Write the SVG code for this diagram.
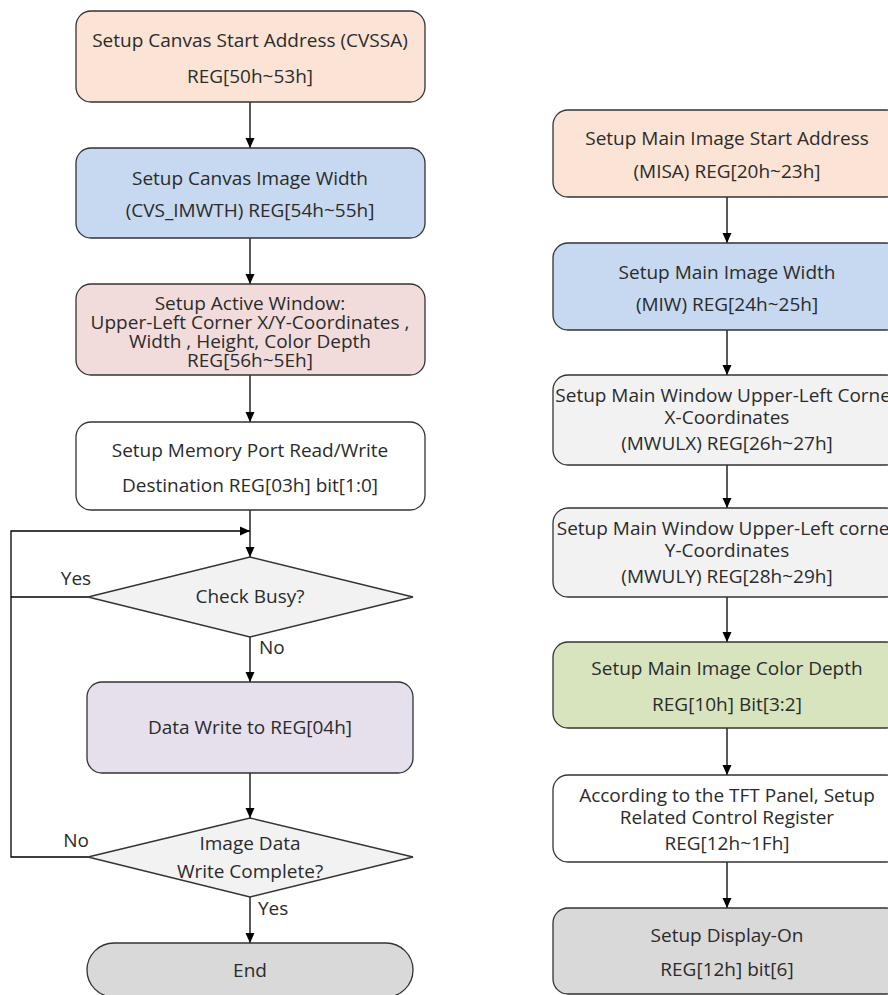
<svg xmlns="http://www.w3.org/2000/svg" width="888" height="995" viewBox="0 0 888 995">
  <defs>
    <marker id="arrow" viewBox="0 0 10 10" refX="10" refY="5" markerWidth="10" markerHeight="10" markerUnits="userSpaceOnUse" orient="auto">
      <path d="M0,0.5 L10,5 L0,9.5 Z" fill="#000"/>
    </marker>
    <style>
      .box { stroke: #333333; stroke-width: 1.3; }
      .peach { fill: #fbe4d5; }
      .blue { fill: #c6d9f0; }
      .pink { fill: #f2dcdb; }
      .white { fill: #ffffff; }
      .lav { fill: #e5e0ec; }
      .light { fill: #f2f2f2; }
      .green { fill: #d7e4bd; }
      .gray { fill: #d9d9d9; }
      text { font-family: "Open Sans", "Noto Sans", sans-serif; font-size: 19px; fill: #2b2b2b; text-anchor: middle; }
      text.lbl { text-anchor: start; }
      .conn { fill: none; stroke: #000; stroke-width: 1.3; }
    </style>
  </defs>
  <rect width="888" height="995" fill="#ffffff"/>

  <!-- connectors -->
  <g id="connectors">
    <!-- left flow -->
    <line class="conn" x1="250" y1="102" x2="250" y2="148" marker-end="url(#arrow)"/>
    <line class="conn" x1="250" y1="238" x2="250" y2="284" marker-end="url(#arrow)"/>
    <line class="conn" x1="250" y1="375" x2="250" y2="422" marker-end="url(#arrow)"/>
    <line class="conn" x1="250" y1="510" x2="250" y2="557" marker-end="url(#arrow)"/>
    <line class="conn" x1="250" y1="637" x2="250" y2="682" marker-end="url(#arrow)"/>
    <line class="conn" x1="250" y1="773" x2="250" y2="818" marker-end="url(#arrow)"/>
    <line class="conn" x1="250" y1="897" x2="250" y2="943" marker-end="url(#arrow)"/>
    <!-- busy / not-complete loop back -->
    <polyline class="conn" points="88,857 11,857 11,531 250,531" marker-end="url(#arrow)"/>
    <line class="conn" x1="88" y1="597" x2="11" y2="597"/>
    <!-- right flow -->
    <line class="conn" x1="727" y1="197" x2="727" y2="243" marker-end="url(#arrow)"/>
    <line class="conn" x1="727" y1="330" x2="727" y2="375" marker-end="url(#arrow)"/>
    <line class="conn" x1="727" y1="465" x2="727" y2="508" marker-end="url(#arrow)"/>
    <line class="conn" x1="727" y1="597" x2="727" y2="642" marker-end="url(#arrow)"/>
    <line class="conn" x1="727" y1="728" x2="727" y2="775" marker-end="url(#arrow)"/>
    <line class="conn" x1="727" y1="862" x2="727" y2="908" marker-end="url(#arrow)"/>
    <!-- branch labels -->
    <text x="76" y="585">Yes</text>
    <text class="lbl" x="259" y="654">No</text>
    <text x="76" y="847">No</text>
    <text class="lbl" x="258" y="915">Yes</text>
  </g>

  <!-- left column -->
  <g id="canvas-start">
    <rect class="box peach" x="76" y="11" width="349" height="91" rx="15"/>
    <text x="250" y="47">Setup Canvas Start Address (CVSSA)</text>
    <text x="250" y="83">REG[50h~53h]</text>
  </g>
  <g id="canvas-width">
    <rect class="box blue" x="76" y="148" width="349" height="90" rx="15"/>
    <text x="250" y="185">Setup Canvas Image Width</text>
    <text x="250" y="217">(CVS_IMWTH) REG[54h~55h]</text>
  </g>
  <g id="active-window">
    <rect class="box pink" x="76" y="284" width="349" height="91" rx="15"/>
    <text x="250" y="310">Setup Active Window:</text>
    <text x="250" y="329">Upper-Left Corner X/Y-Coordinates ,</text>
    <text x="250" y="348">Width , Height, Color Depth</text>
    <text x="250" y="367">REG[56h~5Eh]</text>
  </g>
  <g id="memory-port">
    <rect class="box white" x="76" y="422" width="349" height="88" rx="15"/>
    <text x="250" y="457">Setup Memory Port Read/Write</text>
    <text x="250" y="492">Destination REG[03h] bit[1:0]</text>
  </g>
  <g id="check-busy">
    <polygon class="box light" points="250,557 413,597 250,637 88,597"/>
    <text x="250" y="603">Check Busy?</text>
  </g>
  <g id="data-write">
    <rect class="box lav" x="87" y="682" width="326" height="91" rx="15"/>
    <text x="250" y="734">Data Write to REG[04h]</text>
  </g>
  <g id="write-complete">
    <polygon class="box light" points="250,818 413,857 250,897 88,857"/>
    <text x="250" y="850">Image Data</text>
    <text x="250" y="878">Write Complete?</text>
  </g>
  <g id="end">
    <rect class="box gray" x="87" y="943" width="326" height="54" rx="27"/>
    <text x="250" y="977">End</text>
  </g>

  <!-- right column -->
  <g id="main-start">
    <rect class="box peach" x="553" y="110" width="348" height="87" rx="15"/>
    <text x="727" y="145">Setup Main Image Start Address</text>
    <text x="727" y="178">(MISA) REG[20h~23h]</text>
  </g>
  <g id="main-width">
    <rect class="box blue" x="553" y="243" width="348" height="87" rx="15"/>
    <text x="727" y="279">Setup Main Image Width</text>
    <text x="727" y="311">(MIW) REG[24h~25h]</text>
  </g>
  <g id="main-window-x">
    <rect class="box light" x="553" y="375" width="348" height="90" rx="15"/>
    <text x="727" y="402">Setup Main Window Upper-Left Corner</text>
    <text x="727" y="424">X-Coordinates</text>
    <text x="727" y="450">(MWULX) REG[26h~27h]</text>
  </g>
  <g id="main-window-y">
    <rect class="box light" x="553" y="508" width="348" height="89" rx="15"/>
    <text x="727" y="535">Setup Main Window Upper-Left corner</text>
    <text x="727" y="557">Y-Coordinates</text>
    <text x="727" y="583">(MWULY) REG[28h~29h]</text>
  </g>
  <g id="color-depth">
    <rect class="box green" x="553" y="642" width="348" height="86" rx="15"/>
    <text x="727" y="675">Setup Main Image Color Depth</text>
    <text x="727" y="711">REG[10h] Bit[3:2]</text>
  </g>
  <g id="tft-panel">
    <rect class="box white" x="553" y="775" width="348" height="87" rx="15"/>
    <text x="727" y="802">According to the TFT Panel, Setup</text>
    <text x="727" y="824">Related Control Register</text>
    <text x="727" y="850">REG[12h~1Fh]</text>
  </g>
  <g id="display-on">
    <rect class="box gray" x="553" y="908" width="348" height="86" rx="15"/>
    <text x="727" y="942">Setup Display-On</text>
    <text x="727" y="976">REG[12h] bit[6]</text>
  </g>
</svg>
